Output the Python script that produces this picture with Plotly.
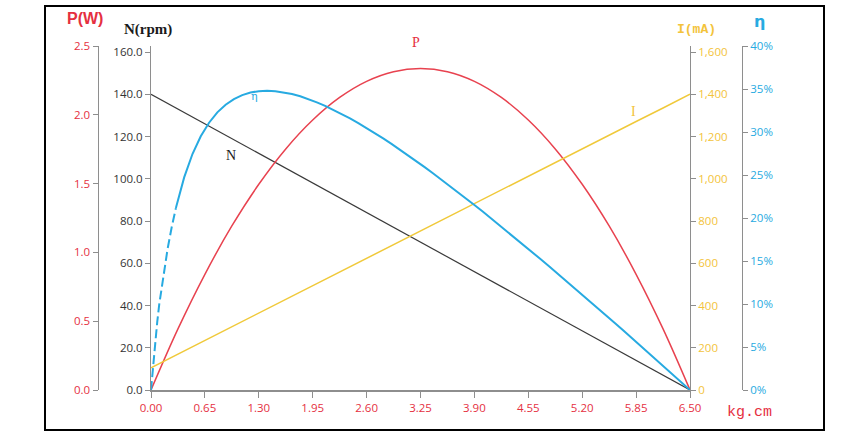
import plotly.graph_objects as go

# ---------------- data ----------------
torque = [0.0, 0.325, 0.65, 0.975, 1.3, 1.625, 1.95, 2.275, 2.6, 2.925, 3.25,
          3.575, 3.9, 4.225, 4.55, 4.875, 5.2, 5.525, 5.85, 6.175, 6.5]
speed_rpm = [140, 133, 126, 119, 112, 105, 98, 91, 84, 77, 70,
             63, 56, 49, 42, 35, 28, 21, 14, 7, 0]
power_w = [0.0, 0.444, 0.841, 1.192, 1.495, 1.752, 1.962, 2.126, 2.243, 2.313, 2.336,
           2.313, 2.243, 2.126, 1.962, 1.752, 1.495, 1.192, 0.841, 0.444, 0.0]
current_ma = [105, 170, 235, 299, 364, 429, 494, 558, 623, 688, 753,
              817, 882, 947, 1012, 1076, 1141, 1206, 1271, 1335, 1400]

eff_torque = [0.0, 0.025, 0.05, 0.075, 0.1, 0.15, 0.2, 0.25, 0.3, 0.35, 0.4,
              0.5, 0.6, 0.7, 0.8, 0.9, 1.0, 1.1, 1.2, 1.3, 1.4, 1.5, 1.6, 1.7, 1.8, 1.9,
              2.0, 2.1, 2.2, 2.3, 2.4, 2.5, 2.6, 2.7, 2.8, 2.9, 3.0, 3.1, 3.2, 3.3, 3.4,
              3.5, 3.6, 3.7, 3.8, 3.9, 4.0, 4.1, 4.2, 4.3, 4.4, 4.5, 4.6, 4.7, 4.8, 4.9,
              5.0, 5.1, 5.2, 5.3, 5.4, 5.5, 5.6, 5.7, 5.8, 5.9, 6.0, 6.1, 6.2, 6.3, 6.4, 6.5]
eff_pct = [0.0, 2.9, 5.6, 7.9, 10.0, 13.4, 16.4, 18.95, 21.15, 23.05, 24.72,
           27.44, 29.50, 31.08, 32.28, 33.17, 33.83, 34.29, 34.59, 34.75, 34.80, 34.75,
           34.62, 34.42, 34.15, 33.82, 33.45, 33.04, 32.58, 32.10, 31.58, 31.03, 30.46,
           29.86, 29.25, 28.61, 27.96, 27.30, 26.61, 25.92, 25.21, 24.49, 23.76, 23.02,
           22.27, 21.51, 20.75, 19.97, 19.19, 18.41, 17.62, 16.82, 16.01, 15.20, 14.39,
           13.57, 12.75, 11.92, 11.09, 10.25, 9.41, 8.57, 7.73, 6.88, 6.03, 5.17, 4.32,
           3.46, 2.60, 1.73, 0.87, 0.0]
dash_end_torque = 0.3

x_ticks = [0.0, 0.65, 1.30, 1.95, 2.60, 3.25, 3.90, 4.55, 5.20, 5.85, 6.50]
n_ticks = [0, 20, 40, 60, 80, 100, 120, 140, 160]
i_ticks = [0, 200, 400, 600, 800, 1000, 1200, 1400, 1600]
p_ticks = [0.0, 0.5, 1.0, 1.5, 2.0, 2.5]
eff_ticks = [0, 5, 10, 15, 20, 25, 30, 35, 40]

# ---------------- style ----------------
FW, FH = 851, 441
RED_TXT = "#E5303F"
RED_LINE = "#E8424F"
BLUE = "#27AAE1"
YEL_TXT = "#F3C33B"
YEL_LINE = "#F0C93A"
DARK = "#3A3A3A"
AX = "#8E8E8E"
TICKFONT = "Open Sans"
TICKSIZE = 11.5


def px(x):
    return x / FW


def py(y):
    return 1 - y / FH


plot_top, plot_bot = 46, 390
plot_left, plot_right = 151, 690
stretch = (plot_bot - plot_top) / (plot_bot - 52)  # N / I axes top tick sits lower

eff = [v / 100 for v in eff_pct]
n_dash = len([t for t in eff_torque if t <= dash_end_torque])
dash_x, dash_y = eff_torque[:n_dash], eff[:n_dash]
solid_x, solid_y = eff_torque[n_dash - 1:], eff[n_dash - 1:]

fig = go.Figure()
fig.add_trace(go.Scatter(x=torque, y=current_ma, yaxis="y3", mode="lines",
                         line=dict(color=YEL_LINE, width=1.5)))
fig.add_trace(go.Scatter(x=torque, y=speed_rpm, yaxis="y", mode="lines",
                         line=dict(color=DARK, width=1.2)))
fig.add_trace(go.Scatter(x=torque, y=power_w, yaxis="y2", mode="lines",
                         line=dict(color=RED_LINE, width=1.5, shape="spline")))
fig.add_trace(go.Scatter(x=solid_x, y=solid_y, yaxis="y4", mode="lines",
                         line=dict(color=BLUE, width=2)))
fig.add_trace(go.Scatter(x=dash_x, y=dash_y, yaxis="y4", mode="lines",
                         line=dict(color=BLUE, width=2, dash="9px,4px")))

common_y = dict(showgrid=False, zeroline=False, showline=True, linecolor=AX,
                linewidth=1, ticks="outside", ticklen=5, tickcolor=AX,
                automargin=False)

fig.update_layout(
    width=FW, height=FH, autosize=False,
    margin=dict(l=0, r=0, t=0, b=0, pad=0),
    paper_bgcolor="white", plot_bgcolor="white",
    showlegend=False,
    xaxis=dict(domain=[px(plot_left), px(plot_right)], range=[0, 6.5],
               tickvals=x_ticks, ticktext=["%.2f" % v for v in x_ticks],
               tickfont=dict(family=TICKFONT, size=TICKSIZE, color=RED_TXT),
               showgrid=False, zeroline=False, showline=True, linecolor=AX,
               linewidth=2, ticks="outside", ticklen=6, tickcolor=AX,
               automargin=False),
    yaxis=dict(domain=[py(plot_bot), py(plot_top)], range=[0, 160 * stretch],
               tickvals=n_ticks, ticktext=["%.1f" % v for v in n_ticks],
               tickfont=dict(family=TICKFONT, size=TICKSIZE, color="#333333"),
               anchor="x", side="left", **common_y),
    yaxis2=dict(overlaying="y", anchor="free", position=px(97.5), side="left",
                range=[0, 2.5], tickvals=p_ticks,
                ticktext=["%.1f" % v for v in p_ticks],
                tickfont=dict(family=TICKFONT, size=TICKSIZE, color=RED_TXT), **common_y),
    yaxis3=dict(overlaying="y", anchor="x", side="right",
                range=[0, 1600 * stretch], tickvals=i_ticks,
                ticktext=["{:,}".format(v) for v in i_ticks],
                tickfont=dict(family=TICKFONT, size=TICKSIZE, color=YEL_TXT), **common_y),
    yaxis4=dict(overlaying="y", anchor="free", position=px(742), side="right",
                range=[0, 0.4], tickvals=[v / 100 for v in eff_ticks],
                ticktext=["%d%%" % v for v in eff_ticks],
                tickfont=dict(family=TICKFONT, size=TICKSIZE, color=BLUE), **common_y),
)


def label(text, x, y, color, size, family, bold=False):
    t = "<b>%s</b>" % text if bold else text
    fig.add_annotation(text=t, x=px(x), y=py(y), xref="paper", yref="paper",
                       showarrow=False, xanchor="center", yanchor="middle",
                       font=dict(color=color, size=size, family=family))


label("P(W)", 85, 19, RED_TXT, 16, "Liberation Sans", bold=True)
label("N(rpm)", 148, 29, "#1A1A1A", 15, "Liberation Serif", bold=True)
label("I(mA)", 696, 30, YEL_TXT, 13, "Liberation Mono", bold=True)
label("η", 759, 21, BLUE, 16, "DejaVu Sans", bold=True)
label("kg.cm", 749, 412, RED_TXT, 15, "Liberation Mono")
label("P", 416, 42, RED_TXT, 14, "Liberation Serif")
label("N", 231, 156, "#1A1A1A", 14, "Liberation Serif")
label("I", 633, 111, YEL_TXT, 14, "Liberation Serif")
label("η", 255, 96, BLUE, 11, "DejaVu Serif")

fig.add_shape(type="rect", xref="paper", yref="paper",
              x0=px(45), x1=px(824), y0=py(430), y1=py(6),
              line=dict(color="black", width=2))

fig.write_html("out.html", config={"displayModeBar": False},
               post_script="document.body.style.margin='0px';")
